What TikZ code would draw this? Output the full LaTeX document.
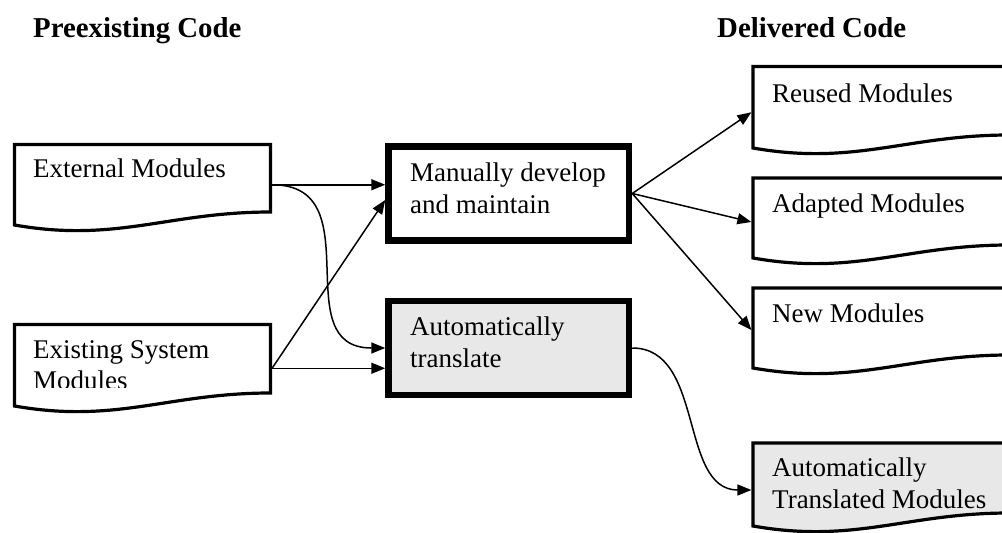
\documentclass[tikz,border=0pt]{standalone}
\usepackage{fontspec}
\setmainfont{Liberation Serif}
\usetikzlibrary{arrows.meta}
\definecolor{boxgray}{RGB}{232,232,232}
\tikzset{
  docline/.style={line width=3.2pt, line join=miter},
  procbox/.style={draw, line width=6.5pt, rectangle, minimum width=240.5pt, minimum height=94pt, inner sep=0pt},
  docnode/.style={rectangle, draw=none, minimum width=256pt, inner sep=0pt, outer sep=1.6pt},
  bodytext/.style={anchor=base west, inner sep=0pt, align=left, font=\fontsize{27}{31.5}\selectfont},
  headtext/.style={anchor=base west, inner sep=0pt, font=\fontsize{28.8}{33}\selectfont\bfseries},
  conn/.style={line width=1.5pt, -{Triangle[length=14pt,width=11pt]}},
}
% #1 name, #2 left x, #3 top y, #4 left-bottom y, #5 height, #6 fill
\newcommand{\docshp}[6]{%
  \node[docnode, minimum height=#5pt] (#1) at ({#2+128},{(#3+#4)/2}) {};
  \draw[docline, fill=#6] (#2,#3) -- ({#2+256},#3) -- ({#2+256},{#4-13})
     .. controls ({#2+153.6},{#4-13}) and ({#2+102.4},{#4+18}) .. (#2,#4) -- cycle;}
\begin{document}
\begin{tikzpicture}[x=1pt,y=-1pt]
\useasboundingbox (0,0) rectangle (1002,533);
\clip (0,0) rectangle (1002,533);

% headers
\node[headtext] (h1) at (33,37) {Preexisting Code};
\node[headtext] (h2) at (717,37) {Delivered Code};

% document shapes
\docshp{ext}{14.5}{144.5}{225}{80.5}{white}
\docshp{exi}{14.5}{324.5}{406}{81.5}{white}
\docshp{reu}{753}{66.5}{148}{81.5}{white}
\docshp{ada}{753}{178}{258}{80}{white}
\docshp{new}{753}{288}{368}{80}{white}
\docshp{att}{753}{443}{526}{83}{boxgray}

% process boxes
\node[procbox, fill=white] (man) at (508.75,193.5) {};
\node[procbox, fill=boxgray] (auto) at (508.75,348) {};

% texts (base west of a multi-line node = baseline of its last line)
\node[bodytext] (ext-t) at (33,177) {External Modules};
\begin{scope}
  \clip (14,326) rectangle (268,387);
  \node[bodytext] (exi-t) at (33,389.5) {Existing System\\Modules};
\end{scope}
\node[bodytext] (man-t) at (410,213) {Manually develop\\and maintain};
\node[bodytext] (auto-t) at (410,367) {Automatically\\translate};
\node[bodytext] (reu-t) at (772,102) {Reused Modules};
\node[bodytext] (ada-t) at (772,212) {Adapted Modules};
\node[bodytext] (new-t) at (772,322) {New Modules};
\node[bodytext] (att-t) at (772,508) {Automatically\\Translated Modules};

% connectors
\coordinate (exo) at ([yshift=-3pt]exi.east);
\draw[conn] (ext.east) -- (ext.east -| man.west);
\draw[conn] (ext.east) to[out=0,in=180,looseness=1.3] (auto.west);
\draw[conn] (exo) -- ([yshift=-6.5pt]man.west);
\draw[conn] (exo) -- (exo -| auto.west);
\draw[conn] (man.east) -- ([yshift=-5pt]reu.west);
\draw[conn] (man.east) -- ([yshift=-4pt]ada.west);
\draw[conn] (man.east) -- ([yshift=-2pt]new.west);
\draw[conn] (auto.east) to[out=0,in=180] ([yshift=-5.5pt]att.west);
\end{tikzpicture}
\end{document}
